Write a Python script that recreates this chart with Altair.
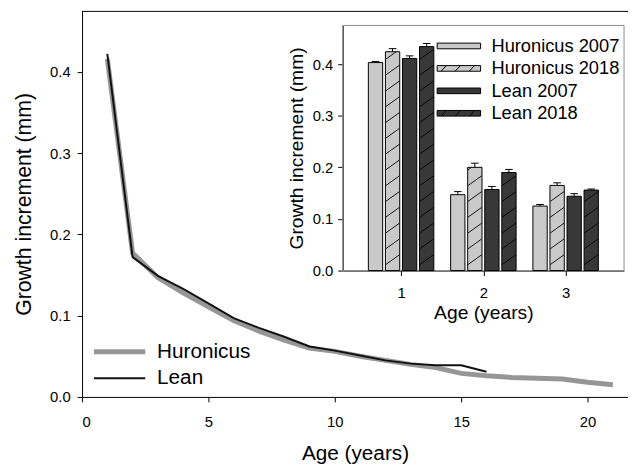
import altair as alt
import pandas as pd
import numpy as np

# ---------------- data ----------------
series_names = ["Huronicus", "Lean"]
hur_age = list(range(1, 22))
hur_val = [0.416, 0.177, 0.147, 0.128, 0.111, 0.094, 0.081, 0.070, 0.060, 0.056,
           0.050, 0.045, 0.040, 0.036, 0.029, 0.026, 0.024, 0.023, 0.022, 0.018, 0.015]
lean_age = list(range(1, 17))
lean_val = [0.422, 0.172, 0.149, 0.133, 0.115, 0.097, 0.085, 0.074, 0.062, 0.057,
            0.051, 0.045, 0.041, 0.039, 0.039, 0.031]

inset_groups = ["Huronicus 2007", "Huronicus 2018", "Lean 2007", "Lean 2018"]
inset_hatched = [False, True, False, True]
inset_ages = [1, 2, 3]
hur07 = [0.403, 0.147, 0.125]
hur07_err = [0.002, 0.006, 0.003]
hur18 = [0.424, 0.200, 0.165]
hur18_err = [0.006, 0.008, 0.005]
lean07 = [0.411, 0.157, 0.144]
lean07_err = [0.005, 0.006, 0.005]
lean18 = [0.434, 0.190, 0.156]
lean18_err = [0.006, 0.006, 0.002]

main_x_ticks = [0, 5, 10, 15, 20]
y_ticks = [0.0, 0.1, 0.2, 0.3, 0.4]
inset_x_ticks = [1, 2, 3]

# ---------------- layout / style ----------------
FONT = "Liberation Sans"
W, H = 553, 391
PAD_L = 75
IX0, IX1 = 264, 549          # inset plot range (x, px inside main plot)
IY0, IY1 = 263, 14.7         # inset plot range (y bottom, y top)
IX_DOM = [0.35, 3.65]
Y_DOM = [0, 0.475]
LIGHT, DARK = "#c9c9c9", "#383838"
LINE_COLORS = ["#969696", "#111111"]
LINE_WIDTHS = [5, 2]
BAR_PX, STEP_PX = 14.5, 17.9
x_unit = (IX1 - IX0) / (IX_DOM[1] - IX_DOM[0])
y_unit = (IY0 - IY1) / (Y_DOM[1] - Y_DOM[0])

# ---------------- main lines ----------------
lines_df = pd.concat([
    pd.DataFrame({"age": hur_age, "gi": hur_val, "series": "Huronicus"}),
    pd.DataFrame({"age": lean_age, "gi": lean_val, "series": "Lean"}),
])

lines = alt.Chart(lines_df).mark_line().encode(
    x=alt.X("age:Q", scale=alt.Scale(domain=[0, 21.6], nice=False),
            axis=alt.Axis(values=main_x_ticks, title="Age (years)", labelFontSize=15,
                          titleFontSize=21, tickSize=5, labelPadding=13, titlePadding=13)),
    y=alt.Y("gi:Q", scale=alt.Scale(domain=Y_DOM, nice=False),
            axis=alt.Axis(values=y_ticks, format=".1f", title="Growth increment (mm)",
                          labelFontSize=15, titleFontSize=21.5, tickSize=5,
                          labelPadding=7, titlePadding=14)),
    color=alt.Color("series:N", scale=alt.Scale(domain=series_names, range=LINE_COLORS), legend=None),
    strokeWidth=alt.StrokeWidth("series:N", scale=alt.Scale(domain=series_names, range=LINE_WIDTHS),
                                legend=None),
)

top_border = alt.Chart(pd.DataFrame({"k": [0]})).mark_rule(color="black", strokeWidth=1).encode(
    x=alt.value(0), x2=alt.value(W), y=alt.value(0.5))

main = alt.layer(lines, top_border)

# main legend (line samples + labels)
mleg_df = pd.DataFrame({"series": series_names})
mleg_y = alt.Y("series:N", scale=alt.Scale(type="point", domain=series_names, range=[345.3, 372],
                                           padding=0), axis=None)
mleg_lines = alt.Chart(mleg_df).mark_rule().encode(
    x=alt.value(12), x2=alt.value(64), y=mleg_y,
    color=alt.Color("series:N", scale=alt.Scale(domain=series_names, range=LINE_COLORS), legend=None),
    strokeWidth=alt.StrokeWidth("series:N", scale=alt.Scale(domain=series_names, range=LINE_WIDTHS),
                                legend=None),
)
mleg_text = alt.Chart(mleg_df).mark_text(align="left", baseline="middle", font=FONT, fontSize=21,
                                         color="black").encode(
    x=alt.value(76), y=mleg_y, text="series:N")
main_leg = alt.layer(mleg_lines, mleg_text)

# ---------------- inset bars ----------------
vals = [hur07, hur18, lean07, lean18]
errs = [hur07_err, hur18_err, lean07_err, lean18_err]
rows = []
for gi_, g in enumerate(inset_groups):
    off = (gi_ - 1.5) * STEP_PX / x_unit
    for ai, a in enumerate(inset_ages):
        v, e = vals[gi_][ai], errs[gi_][ai]
        p = a + off
        rows.append({"grp": g, "age": a, "pos": p, "val": v, "top": v + e,
                     "cl": p - 4 / x_unit, "cr": p + 4 / x_unit, "hatch": inset_hatched[gi_]})
bars_df = pd.DataFrame(rows)

# hatch segments ("/") inside the 2018 bars
hw = BAR_PX / x_unit
sp = 16 / y_unit
rise = 10 / y_unit
hrows = []
for r in rows:
    if not r["hatch"]:
        continue
    xl, xr, T = r["pos"] - hw / 2, r["pos"] + hw / 2, r["val"]
    k = 0
    while True:
        y0 = k * sp - rise
        y1 = y0 + rise
        if y0 >= T:
            break
        ya, yb = max(y0, 0.0), min(y1, T)
        if yb > ya:
            hrows.append({"hx1": xl + (ya - y0) / rise * (xr - xl), "hy1": ya,
                          "hx2": xl + (yb - y0) / rise * (xr - xl), "hy2": yb})
        k += 1
hatch_df = pd.DataFrame(hrows)

ax_x_in = alt.Axis(orient="bottom", offset=-(H - IY0), values=inset_x_ticks, title="Age (years)",
                   labelFontSize=15, titleFontSize=19.5, tickSize=5, labelPadding=10, titlePadding=4)
ax_y_in = alt.Axis(orient="left", offset=-IX0, values=y_ticks, format=".1f",
                   title="Growth increment (mm)", labelFontSize=15, titleFontSize=19.5,
                   tickSize=5, labelPadding=5, titlePadding=6)
sx_in = alt.Scale(domain=IX_DOM, range=[IX0, IX1], nice=False)
sy_in = alt.Scale(domain=Y_DOM, range=[IY0, IY1], nice=False)
bar_colors = alt.Scale(domain=inset_groups, range=[LIGHT, LIGHT, DARK, DARK])

frame = alt.Chart(pd.DataFrame({"k": [0]})).mark_rect(
    fill="white", fillOpacity=0, stroke="#8c8c8c", strokeWidth=1).encode(
    x=alt.value(IX0), x2=alt.value(IX1), y=alt.value(IY1), y2=alt.value(IY0))

bars = alt.Chart(bars_df).mark_bar(size=BAR_PX, stroke="black", strokeWidth=1, opacity=1).encode(
    x=alt.X("pos:Q", scale=sx_in, axis=ax_x_in),
    y=alt.Y("val:Q", scale=sy_in, axis=ax_y_in, stack=None),
    color=alt.Color("grp:N", scale=bar_colors, legend=None),
)

hatch = alt.Chart(hatch_df).mark_rule(color="black", strokeWidth=0.9).encode(
    x=alt.X("hx1:Q", scale=sx_in, axis=ax_x_in),
    x2="hx2:Q",
    y=alt.Y("hy1:Q", scale=sy_in, axis=ax_y_in),
    y2="hy2:Q",
)

err = alt.Chart(bars_df).mark_rule(color="black", strokeWidth=1).encode(
    x=alt.X("pos:Q", scale=sx_in, axis=ax_x_in),
    y=alt.Y("val:Q", scale=sy_in, axis=ax_y_in),
    y2="top:Q",
)
caps = alt.Chart(bars_df).mark_rule(color="black", strokeWidth=1).encode(
    x=alt.X("cl:Q", scale=sx_in, axis=ax_x_in),
    x2="cr:Q",
    y=alt.Y("top:Q", scale=sy_in, axis=ax_y_in),
)

inset = alt.layer(frame, bars, hatch, err, caps)

# inset legend: flat (hatched) rectangles + labels
rect_path = "M-1,-0.13H1V0.13H-1Z"
hatch_path = rect_path + "M-0.82,0.13L-0.58,-0.13M-0.17,0.13L0.07,-0.13M0.48,0.13L0.72,-0.13"
ileg_df = pd.DataFrame({"grp": inset_groups})
ileg_y = alt.Y("grp:N", scale=alt.Scale(type="point", domain=inset_groups, range=[35.5, 103.7],
                                        padding=0), axis=None)
ileg_sym = alt.Chart(ileg_df).mark_point(filled=True, opacity=1, stroke="black", strokeWidth=1,
                                         size=1936).encode(
    x=alt.value(381.7), y=ileg_y,
    fill=alt.Fill("grp:N", scale=bar_colors, legend=None),
    shape=alt.Shape("grp:N", scale=alt.Scale(domain=inset_groups,
                                             range=[rect_path, hatch_path, rect_path, hatch_path]),
                    legend=None),
)
ileg_text = alt.Chart(ileg_df).mark_text(align="left", baseline="middle", font=FONT, fontSize=18.5,
                                         color="black").encode(
    x=alt.value(414.7), y=ileg_y, text="grp:N")
inset_leg = alt.layer(ileg_sym, ileg_text)

chart = alt.layer(main, inset, main_leg, inset_leg).resolve_scale(
    x="independent", y="independent", color="independent", strokeWidth="independent",
    fill="independent", shape="independent",
).properties(
    width=W, height=H, autosize="none",
    padding={"left": PAD_L, "top": 0, "right": 0, "bottom": 66},
).configure_view(stroke=None).configure_axis(
    grid=False, labelFont=FONT, titleFont=FONT, labelColor="black", titleColor="black",
    domainColor="black", tickColor="black", titleFontWeight="normal", domainWidth=1, tickWidth=1,
)

chart.save("out.html", embed_options={"renderer": "svg", "actions": False})
